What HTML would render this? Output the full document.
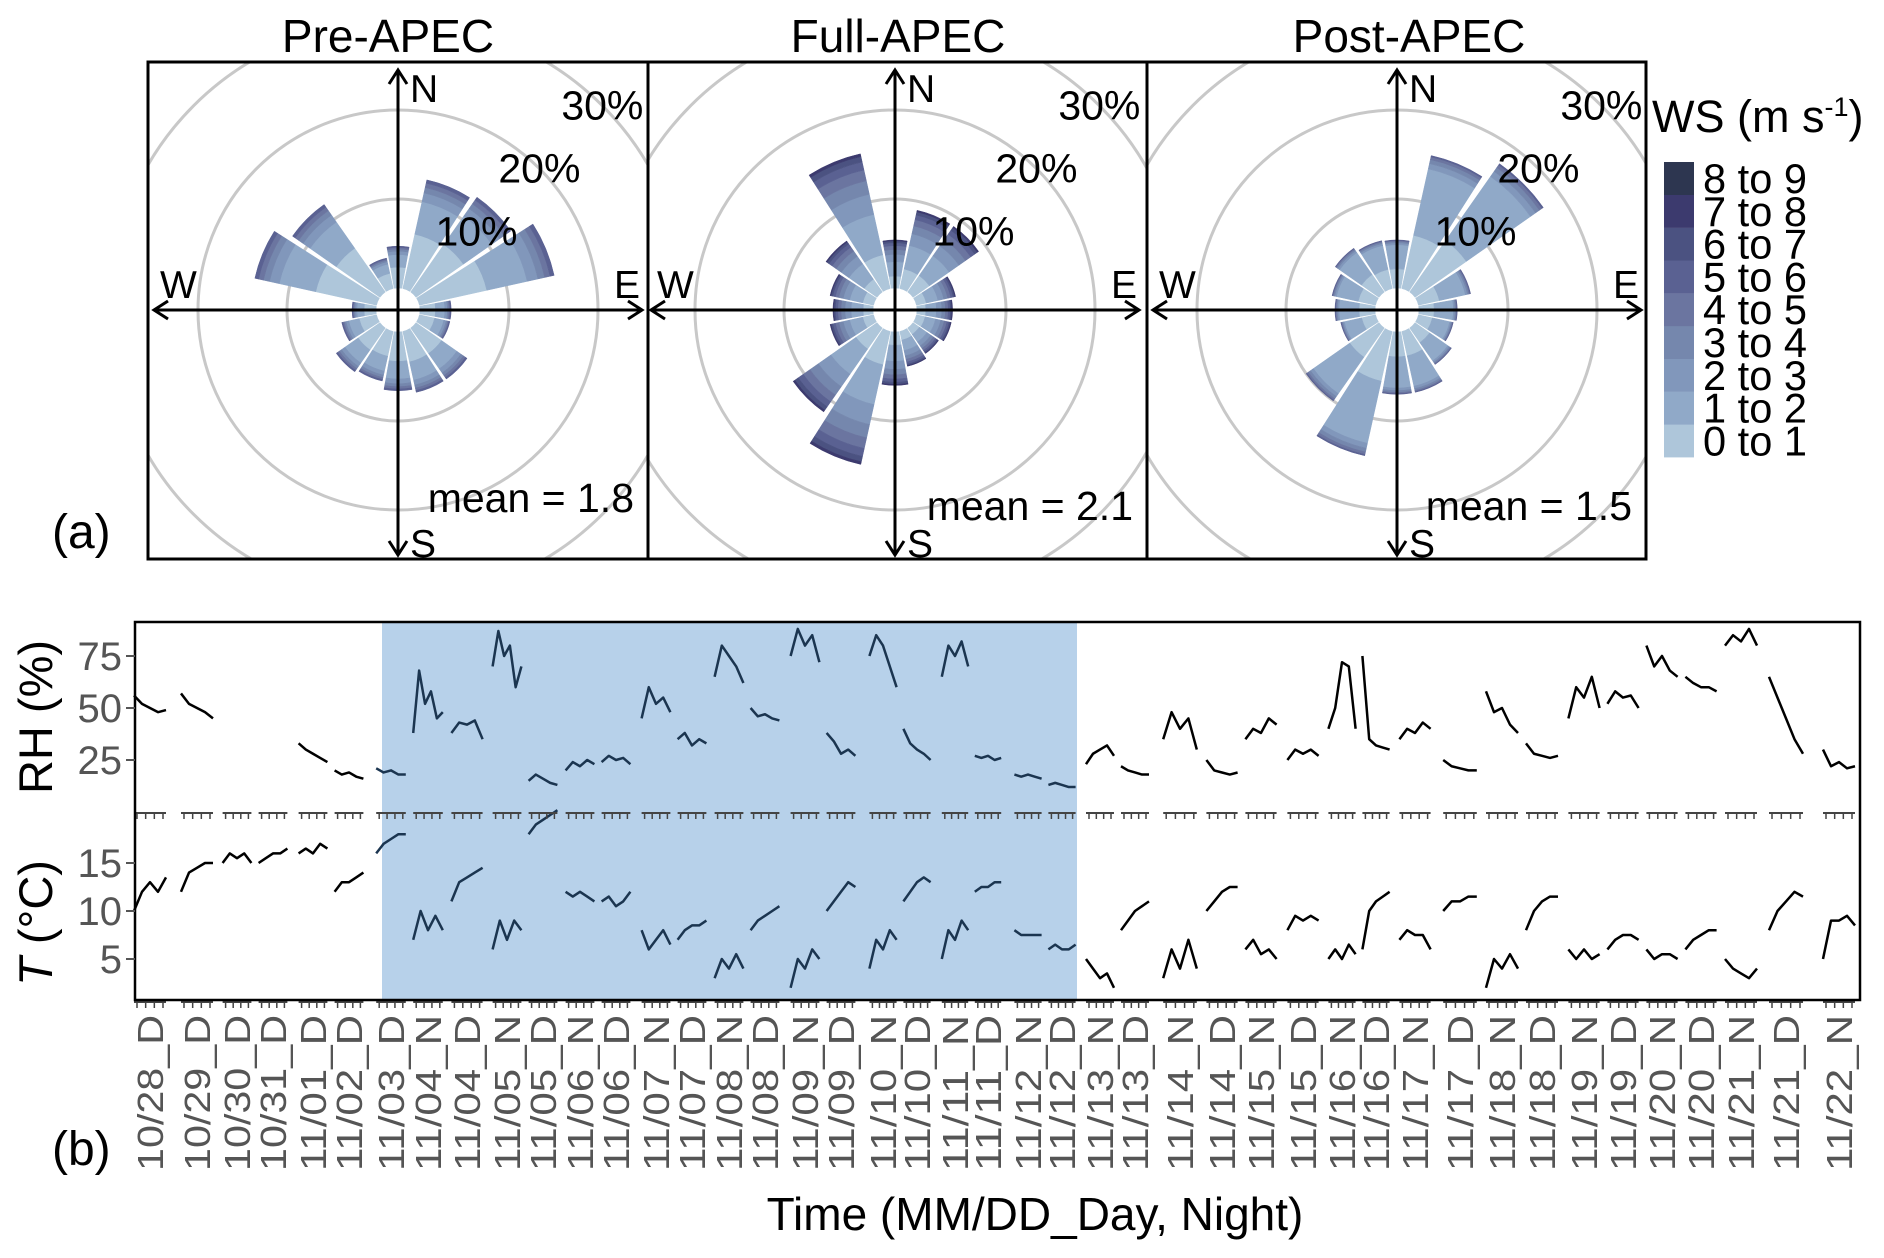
<!DOCTYPE html>
<html><head><meta charset="utf-8"><style>
body{margin:0;background:#fff}
svg{display:block;font-family:"Liberation Sans",Arial,sans-serif}
</style></head><body>
<svg id="fig" width="1884" height="1258" viewBox="0 0 1884 1258">
<g id="roses"></g>
<g id="legend"></g>
<g id="ts"></g>
</svg>
<script>
const NS="http://www.w3.org/2000/svg";
// ---------- Wind rose data ----------
const directions=[0,22.5,45,67.5,90,112.5,135,157.5,180,202.5,225,247.5,270,292.5,315,337.5];
const panelTitles=["Pre-APEC","Full-APEC","Post-APEC"];
const panelMeans=["mean = 1.8","mean = 2.1","mean = 1.5"];
const prePct=[4.7,12.5,13,15.5,3.5,3.5,7,7,6.6,5.7,6,4,2.7,14,12,3.5];
const fullPct=[5.4,9,9,4.5,4,4,3.5,4,6,15.3,11.5,5,4.5,5,7,15.5];
const postPct=[5.4,15.3,17.6,6,4.3,4,5,7,7,14.3,10,4,4.5,5,6,5.5];
const preSpeed=[0.5,0.3,0.08,0.05,0.04,0.03,0,0,0];
const fullSpeed=[0.25,0.3,0.15,0.1,0.08,0.06,0.04,0.02,0];
const postSpeed=[0.4,0.5,0.04,0.03,0.02,0.01,0,0,0];
const speedBins=["0 to 1","1 to 2","2 to 3","3 to 4","4 to 5","5 to 6","6 to 7","7 to 8","8 to 9"];
const binColors=["#aec6da","#90a9c8","#8197bb","#7587ad","#6b75a0","#5a6192","#4b5281","#3c3a6e","#2d3650"];
const ringPct=[10,20,30,40];

// ---------- Time series data ----------
const facetLabels=["10/28_D","10/29_D","10/30_D","10/31_D","11/01_D","11/02_D","11/03_D","11/04_N","11/04_D","11/05_N","11/05_D","11/06_N","11/06_D","11/07_N","11/07_D","11/08_N","11/08_D","11/09_N","11/09_D","11/10_N","11/10_D","11/11_N","11/11_D","11/12_N","11/12_D","11/13_N","11/13_D","11/14_N","11/14_D","11/15_N","11/15_D","11/16_N","11/16_D","11/17_N","11/17_D","11/18_N","11/18_D","11/19_N","11/19_D","11/20_N","11/20_D","11/21_N","11/21_D","11/22_N"];
const rhSeries=[[56,52,50,48,49],[57,52,50,48,45],[],[],[33,30,28,26,24],[20,18,19,17,16],[21,19,20,18,18],[38,68,52,58,45,48],[38,43,42,44,35],[70,87,75,80,60,70],[15,18,16,14,13],[20,24,22,25,23],[24,27,25,26,23],[45,60,52,55,48],[35,38,32,35,33],[65,80,75,70,62],[50,46,47,45,44],[75,88,80,85,72],[38,34,28,30,27],[75,85,80,70,60],[40,33,30,28,25],[65,80,75,82,70],[27,26,27,25,26],[18,17,18,17,16],[13,14,13,12,12],[23,28,30,32,27],[22,20,19,18,18],[35,48,40,45,30],[25,20,19,18,19],[35,40,38,45,42],[25,30,28,30,27],[40,50,72,70,40],[75,35,32,31,30],[35,40,38,43,40],[25,22,21,20,20],[58,48,50,42,38],[33,28,27,26,27],[45,60,55,65,50],[52,58,55,56,50],[80,70,75,68,65],[65,62,60,60,58],[80,85,82,88,80],[65,55,45,35,28],[30,22,24,21,22]];
const tSeries=[[10,12,13,12,13.5],[12,14,14.5,15,15],[15,16,15.5,16,15],[15,15.5,16,16,16.5],[16,16.5,16,17,16.5],[12,13,13,13.5,14],[16,17,17.5,18,18],[7,10,8,9.5,8],[11,13,13.5,14,14.5],[6,9,7,9,8],[18,19,19.5,20,20.5],[12,11.5,12,11.5,11],[11,11.5,10.5,11,12],[8,6,7,8,6.5],[7,8,8.5,8.5,9],[3,5,4,5.5,4],[8,9,9.5,10,10.5],[2,5,4,6,5],[10,11,12,13,12.5],[4,7,6,8,7],[11,12,13,13.5,13],[5,8,7,9,8],[12,12.5,12.5,13,13],[8,7.5,7.5,7.5,7.5],[6,6.5,6,6,6.5],[5,4,3,3.5,2],[8,9,10,10.5,11],[3,6,4,7,4],[10,11,12,12.5,12.5],[6,7,5.5,6,5],[8,9.5,9,9.5,9],[5,6,5,6.5,5.5],[6,10,11,11.5,12],[7,8,7.5,7.5,6],[10,11,11,11.5,11.5],[2,5,4,5.5,4],[8,10,11,11.5,11.5],[6,5,6,5,5.5],[6,7,7.5,7.5,7],[6,5,5.5,5.5,5],[6,7,7.5,8,8],[5,4,3.5,3,4],[8,10,11,12,11.5],[5,9,9,9.5,8.5]];
const rhTicks=[25,50,75];
const tTicks=[5,10,15];
const fullStart=6, fullEnd=24;
// layout: facet centre x positions (pixels)
const facetCenters=[150,197,237,273,313,349,391,428,467,507,543,580,616,656,692,729,765,805,841,883,917,955,988,1028,1062,1100,1135,1180,1222,1261,1303,1342,1376,1415,1460,1502,1542,1584,1623,1662,1701,1741,1786,1839];

function mk(tag,attrs,parent,text){const e=document.createElementNS(NS,tag);for(const k in attrs)e.setAttribute(k,attrs[k]);if(text!==undefined)e.textContent=text;parent.appendChild(e);return e;}

// ---------- Roses ----------
const roses=document.getElementById('roses');
const pctSets=[prePct,fullPct,postPct], spdSets=[preSpeed,fullSpeed,postSpeed];
const boxes=[[148,648],[648,1147],[1147,1646]];
const boxTop=62, boxBot=559, cy=310;
const rScale=p=>22+8.9*p;
const defs=mk('defs',{},roses);
boxes.forEach((b,i)=>{
  const cp=mk('clipPath',{id:'cp'+i},defs);
  mk('rect',{x:b[0],y:boxTop,width:b[1]-b[0],height:boxBot-boxTop},cp);
});
function pt(cx,r,deg){const a=deg*Math.PI/180;return [cx+r*Math.sin(a),cy-r*Math.cos(a)];}
function sector(cx,r0,r1,b0,b1){
  const p1=pt(cx,r0,b0),p2=pt(cx,r1,b0),p3=pt(cx,r1,b1),p4=pt(cx,r0,b1);
  return `M${p1[0]},${p1[1]}L${p2[0]},${p2[1]}A${r1},${r1} 0 0 1 ${p3[0]},${p3[1]}L${p4[0]},${p4[1]}A${r0},${r0} 0 0 0 ${p1[0]},${p1[1]}Z`;
}
boxes.forEach((b,i)=>{
  const cx=Math.round((b[0]+b[1])/2)+(i==1?-3:0);
  const g=mk('g',{'clip-path':`url(#cp${i})`},roses);
  
  
  ringPct.forEach(p=>{
    const c=mk('circle',{cx:cx,cy:cy,r:rScale(p),fill:'none',stroke:'#c8c8c8','stroke-width':3},g);
    
    
  });
  directions.forEach((d,j)=>{
    const tot=pctSets[i][j];let cum=0;
    spdSets[i].forEach((f,k)=>{
      if(f<=0)return;
      const r0=rScale(cum); cum+=tot*f; const r1=rScale(cum);
      const s=mk('path',{d:sector(cx,r0,r1,d-10,d+10),fill:binColors[k],stroke:binColors[k],'stroke-width':0.5},g);
      
      
    });
  });
  const ax=mk('g',{stroke:'#000','stroke-width':3,fill:'none'},roses);
  
  
  mk('line',{x1:cx,y1:70,x2:cx,y2:555},ax);
  mk('line',{x1:cx-244,y1:cy,x2:cx+244,y2:cy},ax);
  mk('path',{d:`M${cx-9},${84}L${cx},${70}L${cx+9},${84}`},ax);
  mk('path',{d:`M${cx-9},${541}L${cx},${555}L${cx+9},${541}`},ax);
  mk('path',{d:`M${cx-230},${cy-9}L${cx-244},${cy}L${cx-230},${cy+9}`},ax);
  mk('path',{d:`M${cx+230},${cy-9}L${cx+244},${cy}L${cx+230},${cy+9}`},ax);
  const lab=(t,x,y,a,n)=>{const e=mk('text',{x:x,y:y,'font-size':39,'text-anchor':a||'start'},roses,t);return e;};
  lab('N',cx+12,102,'start','north-label');
  lab('S',cx+12,557,'start','south-label');
  lab('W',cx-238,298,'start','west-label');
  lab('E',cx+242,298,'end','east-label');
  [10,20,30].forEach(p=>{
    const q=pt(cx,rScale(p),45);
    const e=mk('text',{x:q[0],y:q[1]+14,'font-size':41,'text-anchor':'middle'},roses,p+'%');
    
    
  });
  const m=mk('text',{x:b[1]-14,y:i==0?512:520,'font-size':41,'text-anchor':'end'},roses,panelMeans[i]);
  
  
  const t=mk('text',{x:[388,898,1409][i],y:52,'font-size':46,'text-anchor':'middle'},roses,panelTitles[i]);
  
  
});
const frame=mk('g',{stroke:'#000','stroke-width':3,fill:'none'},roses);


mk('rect',{x:148,y:62,width:1498,height:497},frame);
mk('line',{x1:648,y1:62,x2:648,y2:559},frame);
mk('line',{x1:1147,y1:62,x2:1147,y2:559},frame);
const la=mk('text',{x:52,y:548,'font-size':48},roses,'(a)');



// ---------- Legend ----------
const leg=document.getElementById('legend');
const lt=mk('text',{x:1652,y:132,'font-size':45},leg);


lt.innerHTML='WS (m s<tspan dy="-16" font-size="27">-1</tspan><tspan dy="16">)</tspan>';
for(let k=0;k<9;k++){
  const y=162+(8-k)*32.8;
  const r=mk('rect',{x:1664,y:y,width:30,height:33,fill:binColors[k]},leg);
  
  
  const t=mk('text',{x:1703,y:y+31,'font-size':42,textLength:104,lengthAdjust:'spacingAndGlyphs'},leg,speedBins[k]);
  
  
}

// ---------- Time series ----------
const ts=document.getElementById('ts');
const X0=135,X1=1860,Y0=622,YM=811,Y1=1000;
const yRH=v=>708-(v-50)*52/25;
const yT=v=>911-(v-10)*48/5;
const bg=mk('rect',{x:382,y:Y0,width:1077-382,height:Y1-Y0,fill:'#b7d1ea'},ts);


facetLabels.forEach((lab,i)=>{
  const c=facetCenters[i];
  const lg=i>0?c-facetCenters[i-1]:40, rg=i<facetCenters.length-1?facetCenters[i+1]-c:40;
  const hw=Math.min(17,Math.min(lg,rg)*0.4);
  const left=c-hw, w=2*hw;
  const inFull=i>=fullStart&&i<=fullEnd;
  const col=inFull?'#1b3550':'#000';
  [[rhSeries[i],yRH],[tSeries[i],yT]].forEach(([arr,fy],s)=>{
    if(arr.length<2)return;
    const pts=arr.map((v,k)=>`${left+k*w/(arr.length-1)},${fy(v)}`).join(' ');
    const pl=mk('polyline',{points:pts,fill:'none',stroke:col,'stroke-width':2.5,'stroke-linejoin':'round'},ts);
    
    
  });
  [YM,Y1].forEach(yy=>{
    for(let k=0;k<4;k++){
      mk('line',{x1:left+3+k*(w-6)/3,y1:yy+2,x2:left+3+k*(w-6)/3,y2:yy+8,stroke:'#444','stroke-width':1.5},ts);
    }
    mk('line',{x1:left,y1:yy+2,x2:left+w,y2:yy+2,stroke:'#444','stroke-width':2},ts);
  });
  const t=mk('text',{x:0,y:0,'font-size':36,fill:'#555','text-anchor':'end',textLength:156,lengthAdjust:'spacingAndGlyphs',transform:`translate(${c+13},1015) rotate(-90)`},ts,lab);
  
  
});
const fr=mk('g',{stroke:'#000','stroke-width':2.5,fill:'none'},ts);


mk('rect',{x:X0,y:Y0,width:X1-X0,height:Y1-Y0},fr);
rhTicks.forEach(v=>{
  const t=mk('text',{x:122,y:yRH(v)+14,'font-size':40,fill:'#555','text-anchor':'end'},ts,v);
  
  
  mk('line',{x1:126,y1:yRH(v),x2:X0,y2:yRH(v),stroke:'#555','stroke-width':2},ts);
});
tTicks.forEach(v=>{
  const t=mk('text',{x:122,y:yT(v)+14,'font-size':40,fill:'#555','text-anchor':'end'},ts,v);
  
  
  mk('line',{x1:126,y1:yT(v),x2:X0,y2:yT(v),stroke:'#555','stroke-width':2},ts);
});
const yt1=mk('text',{x:0,y:0,'font-size':47,'text-anchor':'middle',transform:'translate(52,717) rotate(-90)'},ts,'RH (%)');


const yt2=mk('text',{x:0,y:0,'font-size':47,'text-anchor':'middle',transform:'translate(52,923) rotate(-90)'},ts);
yt2.innerHTML='<tspan font-style="italic">T</tspan> (°C)';


const xt=mk('text',{x:1035,y:1230,'font-size':46,'text-anchor':'middle'},ts,'Time (MM/DD_Day, Night)');


const lb=mk('text',{x:52,y:1165,'font-size':48},ts,'(b)');


</script>
</body></html>
